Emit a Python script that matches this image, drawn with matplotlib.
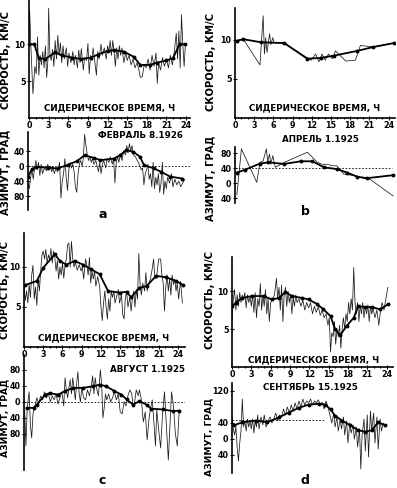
import numpy as np
import matplotlib
matplotlib.use("Agg")
import matplotlib.pyplot as plt

W, H = 397, 488

# ---- panel a : February 8, 1926 ----
a_raw_t = [0.0, 0.1, 0.3, 0.6, 0.9, 1.1, 1.3, 1.5, 1.7, 1.9, 2.1, 2.3, 2.5, 2.7, 2.9, 3.0, 3.2, 3.4, 3.6, 3.8,
           4.0, 4.2, 4.4, 4.6, 4.8, 5.0, 5.2, 5.4, 5.7, 5.9, 6.1, 6.4, 6.7, 6.9, 7.1, 7.4, 7.6, 7.8, 8.0, 8.3,
           8.5, 8.8, 9.0, 9.2, 9.4, 9.6, 9.8, 10.0, 10.3, 10.5, 10.7, 11.0, 11.2, 11.5, 11.8, 12.0, 12.2, 12.4,
           12.6, 12.8, 13.0, 13.2, 13.4, 13.6, 13.8, 14.0, 14.2, 14.5, 14.8, 15.0, 15.3, 15.6, 15.9, 16.2, 16.5,
           16.8, 17.0, 17.3, 17.6, 17.9, 18.2, 18.5, 18.8, 19.1, 19.4, 19.6, 19.8, 20.1, 20.4, 20.7, 21.0, 21.3,
           21.6, 21.9, 22.2, 22.5, 22.7, 22.9, 23.1, 23.3, 23.5, 23.7, 23.9]
a_raw_v = [10.0, 14.6, 9.5, 3.3, 7.0, 6.0, 11.0, 5.8, 8.5, 7.2, 9.0, 6.8, 9.8, 5.5, 8.0, 14.9, 8.5, 7.8, 9.3, 7.0,
           10.5, 8.0, 11.2, 8.5, 10.2, 7.5, 9.8, 8.0, 9.5, 7.0, 8.8, 7.5, 9.0, 7.2, 8.5, 6.8, 9.2, 7.5, 9.4, 6.5,
           8.2, 7.8, 10.1, 6.0, 8.5, 7.8, 9.5, 8.0, 5.8, 9.0, 8.0, 10.0, 8.5, 9.5, 8.0, 9.8, 9.0, 10.5,
           8.5, 10.5, 9.0, 7.0, 9.5, 8.0, 9.8, 8.5, 9.5, 7.5, 9.0, 7.8, 8.5, 7.2, 8.0, 6.8, 7.5,
           6.5, 5.5, 5.6, 7.2, 6.8, 8.0, 6.5, 8.5, 7.0, 8.8, 4.7, 7.5, 6.5, 8.2, 7.0, 8.0, 6.8,
           8.5, 7.2, 9.0, 11.5, 8.0, 11.8, 6.8, 14.0, 10.0, 7.0, 10.0]
a_sm_t = [0.0, 0.8, 1.5, 2.5, 4.0, 5.0, 6.5, 8.0, 9.5, 10.5, 12.0, 13.0, 14.5, 16.0, 17.0, 18.5, 19.5, 21.0, 22.0, 23.0, 23.9]
a_sm_v = [10.0, 10.0, 8.1, 8.0, 8.9, 8.5, 8.2, 8.0, 8.2, 8.6, 9.1, 9.2, 9.0, 8.3, 7.2, 7.2, 7.5, 7.8, 8.1, 10.0, 10.0]

a_az_raw_t = [0.0, 0.2, 0.4, 0.6, 0.8, 1.0, 1.2, 1.4, 1.6, 1.8, 2.0, 2.2, 2.5, 2.8, 3.0, 3.2, 3.4, 3.6, 3.8, 4.0,
              4.2, 4.5, 4.8, 5.0, 5.2, 5.4, 5.6, 5.8, 6.0, 6.2, 6.4, 6.6, 6.8, 7.0, 7.2, 7.4, 7.6, 7.8, 8.0, 8.2,
              8.4, 8.6, 8.8, 9.0, 9.2, 9.4, 9.6, 9.8, 10.0, 10.3, 10.5, 10.7, 10.9, 11.1, 11.3, 11.5, 11.8, 12.0,
              12.3, 12.5, 12.8, 13.0, 13.2, 13.4, 13.6, 13.8, 14.0, 14.3, 14.5, 14.8, 15.0, 15.2, 15.4, 15.6, 15.8,
              16.0, 16.3, 16.6, 16.9, 17.2, 17.4, 17.6, 17.8, 18.0, 18.2, 18.4, 18.6, 18.8, 19.0, 19.2, 19.4, 19.6,
              19.8, 20.0, 20.2, 20.4, 20.6, 20.8, 21.0, 21.2, 21.5, 21.8, 22.0, 22.3, 22.6, 22.9, 23.2, 23.5, 23.8]
a_az_raw_v = [-45, -60, -30, -10, -35, -5, 15, -10, 10, -25, 5, -20, -5, -12, 5, -10, 0, -15, -5, -20,
              -8, -15, 10, -85, -40, -20, 20, -30, -65, -10, 10, -5, 5, -15, -55, -70, -20, 5, 15, 0,
              20, 85, 55, 30, 15, 25, 10, 20, 5, 15, 0, -15, 10, -20, 5, 15, -5, 20,
              10, 25, 5, 20, -45, 10, 25, 10, 30, 15, 40, 30, 55, 35, 60, 40, 55,
              30, 25, 15, 5, -10, -5, -50, -20, -10, 5, -35, -20, -55, 10, -60, -30, -50,
              -20, -70, -45, 10, -75, -40, -60, -30, -45, -20, -55, -35, -50, -40, -55, -45, -35]
a_az_sm_t = [0.0, 0.6, 1.2, 3.0, 4.5, 6.0, 7.5, 8.6, 10.0, 11.0, 13.0, 14.0, 14.9, 16.0, 17.0, 17.6, 19.1, 20.2, 21.6, 23.4]
a_az_sm_v = [-28, -8, -2, -4, -6, 3, 14, 29, 22, 16, 20, 29, 43, 38, 25, 3, -6, -15, -28, -33]

# ---- panel b : April 1, 1925 ----
b_raw_t = [0.3, 1.3, 3.9, 4.4, 4.6, 4.8, 5.0, 5.4, 5.6, 5.9, 6.1, 7.7, 11.1, 11.9, 12.6, 13.1, 13.6, 14.1, 14.6,
           15.2, 15.7, 16.2, 17.3, 18.8, 19.6, 21.6, 24.8]
b_raw_v = [9.9, 10.1, 6.8, 13.1, 8.2, 10.3, 8.4, 10.8, 9.4, 10.3, 9.7, 9.6, 7.8, 7.4, 8.2, 7.2, 8.2, 7.4, 8.2,
           7.6, 8.6, 8.2, 7.3, 7.4, 9.3, 9.1, 9.6]
b_sm_t = [0.3, 1.3, 4.1, 7.7, 11.3, 13.4, 15.5, 19.1, 21.6, 24.8]
b_sm_v = [9.9, 10.1, 9.7, 9.6, 7.6, 7.7, 8.0, 8.6, 9.1, 9.6]

b_az_raw_t = [0.3, 1.0, 3.4, 3.9, 4.4, 4.9, 5.1, 5.4, 5.6, 5.9, 6.3, 7.7, 11.3, 12.9, 13.6, 14.4, 15.2, 15.9,
              17.0, 18.5, 20.1, 21.1, 24.7]
b_az_raw_v = [-31, 91, 2, 55, 59, 91, 59, 77, 50, 73, 42, 55, 82, 55, 50, 50, 46, 46,
              24, 20, 13, 10, -34]
b_az_sm_t = [0.3, 1.5, 3.9, 5.2, 7.7, 10.3, 12.1, 13.9, 16.0, 17.5, 19.1, 20.6, 24.7]
b_az_sm_v = [28, 35, 52, 55, 51, 58, 58, 42, 37, 28, 17, 13, 21]

# ---- panel c : August 1, 1925 ----
c_raw_t = [0.0, 0.2, 0.4, 0.6, 0.8, 1.0, 1.2, 1.4, 1.6, 1.8, 2.0, 2.2, 2.4, 2.6, 2.8, 3.0, 3.2, 3.4, 3.6, 3.8,
           4.0, 4.2, 4.4, 4.6, 4.8, 5.0, 5.2, 5.4, 5.6, 5.8, 6.0, 6.2, 6.4, 6.6, 6.8, 7.0, 7.2, 7.4, 7.6, 7.8,
           8.0, 8.3, 8.6, 8.9, 9.1, 9.3, 9.6, 9.8, 10.0, 10.2, 10.4, 10.6, 10.8, 11.0, 11.2, 11.5, 11.8, 12.0,
           12.2, 12.4, 12.6, 12.8, 13.0, 13.2, 13.4, 13.6, 13.8, 14.0, 14.2, 14.5, 14.7, 14.9, 15.2, 15.4, 15.6,
           15.8, 16.0, 16.2, 16.5, 16.7, 16.9, 17.1, 17.3, 17.5, 17.7, 17.9, 18.1, 18.3, 18.5, 18.8, 19.0, 19.2,
           19.4, 19.7, 20.0, 20.2, 20.4, 20.7, 21.0, 21.3, 21.5, 21.7, 21.9, 22.1, 22.3, 22.5, 22.7, 22.9, 23.1,
           23.3, 23.5, 23.7, 23.9, 24.1, 24.4, 24.7]
c_raw_v = [7.5, 5.8, 7.0, 5.5, 7.8, 6.2, 9.0, 10.2, 6.0, 7.5, 5.2, 8.5, 7.0, 9.5, 11.5, 12.0, 11.0, 12.2, 10.5, 11.5,
           11.0, 12.3, 10.5, 12.0, 11.2, 9.5, 10.8, 8.5, 10.0, 9.0, 10.5, 8.6, 10.2, 11.0, 12.8, 13.0, 10.0, 13.2, 11.0, 10.0,
           10.6, 9.6, 10.3, 9.5, 10.0, 8.5, 11.0, 10.2, 9.0, 11.2, 8.0, 9.5, 8.5, 9.5, 7.6, 8.8, 7.5, 5.0,
           3.3, 5.5, 7.0, 5.0, 3.5, 6.0, 4.5, 7.0, 6.2, 7.0, 5.5, 6.5, 7.2, 5.5, 6.5, 4.0, 3.5,
           6.0, 7.0, 5.0, 6.2, 4.5, 6.0, 7.0, 5.0, 7.2, 6.0, 11.7, 7.8, 6.5, 8.0, 7.0, 9.3, 7.0,
           7.8, 8.5, 9.8, 11.0, 8.5, 9.0, 11.0, 11.0, 9.0, 8.0, 4.5, 7.5, 9.0, 7.0, 8.5, 6.5, 9.0,
           7.8, 8.5, 7.0, 8.0, 6.0, 8.2, 5.5]
c_sm_t = [0.2, 2.0, 3.0, 4.8, 5.6, 6.6, 7.9, 9.2, 10.5, 11.8, 13.1, 14.9, 16.0, 16.7, 18.0, 19.1, 20.6, 22.2, 23.7, 24.8]
c_sm_v = [7.75, 8.25, 9.9, 11.6, 10.75, 10.3, 10.75, 10.3, 9.7, 9.1, 7.0, 6.8, 6.9, 6.2, 7.4, 7.6, 8.9, 8.7, 8.25, 7.75]

c_az_raw_t = [0.1, 0.3, 0.5, 0.8, 1.0, 1.2, 1.4, 1.6, 1.8, 2.0, 2.3, 2.6, 2.9, 3.2, 3.5, 3.8, 4.1, 4.4, 4.7, 5.0,
              5.3, 5.6, 5.9, 6.2, 6.4, 6.6, 6.8, 7.0, 7.2, 7.4, 7.6, 7.8, 8.0, 8.2, 8.4, 8.6, 8.8, 9.0, 9.3, 9.6,
              9.9, 10.2, 10.5, 10.7, 10.9, 11.1, 11.3, 11.6, 11.9, 12.1, 12.3, 12.5, 12.7, 12.9, 13.2, 13.5, 13.8,
              14.1, 14.4, 14.7, 15.0, 15.3, 15.6, 15.9, 16.2, 16.5, 16.8, 17.0, 17.2, 17.5, 17.8, 18.0, 18.3, 18.6,
              18.9, 19.2, 19.5, 19.8, 20.0, 20.2, 20.5, 20.7, 21.0, 21.3, 21.6, 21.9, 22.2, 22.5, 22.8, 23.0, 23.3,
              23.6, 23.9, 24.2]
c_az_raw_v = [-20, -110, -15, 25, -60, -90, -30, -15, -5, 10, -5, 15, 5, 25, 10, 20, 0, 15, 5, 20,
              -5, 10, 25, -10, 60, 30, 10, 35, 55, 20, 60, 35, 5, 45, 75, 20, 0, 35, 10, 5,
              30, 15, 40, 65, 20, 60, 35, 15, 80, 45, -40, -15, 20, 5, 20, 0, 10,
              25, 5, 20, -25, -30, 0, -10, 15, 30, 20, -10, -5, 30, 15, 30, 5, -50,
              -25, -95, -40, -10, 5, -40, -110, -20, -70, -115, -30, 25, -60, -145, -45, 25, -10,
              -80, -110, -20]
c_az_sm_t = [0.4, 1.5, 2.0, 3.3, 4.0, 5.3, 6.4, 7.7, 9.2, 10.8, 11.8, 12.8, 14.1, 15.2, 16.0, 17.0, 18.0, 19.1,
             19.8, 21.7, 23.2, 24.2]
c_az_sm_v = [-15, -15, -7, 18, 22, 18, 27, 35, 35, 39, 43, 39, 27, 18, 6, -7, 2, -7, -17, -19, -23, -22]

# ---- panel d : September 15, 1925 ----
d_raw_t = [0.0, 0.2, 0.4, 0.6, 0.8, 1.0, 1.2, 1.4, 1.6, 1.8, 2.0, 2.2, 2.4, 2.6, 2.8, 3.0, 3.2, 3.4, 3.6, 3.8,
           4.0, 4.2, 4.4, 4.6, 4.8, 5.0, 5.2, 5.4, 5.6, 5.8, 6.0, 6.3, 6.6, 6.9, 7.1, 7.3, 7.5, 7.7, 7.9, 8.1,
           8.3, 8.5, 8.7, 8.9, 9.1, 9.3, 9.5, 9.7, 9.9, 10.1, 10.4, 10.7, 11.0, 11.3, 11.6, 11.9, 12.2, 12.5,
           12.8, 13.1, 13.4, 13.7, 14.0, 14.3, 14.6, 14.9, 15.1, 15.3, 15.5, 15.7, 15.9, 16.1, 16.3, 16.5, 16.7,
           16.9, 17.1, 17.3, 17.5, 17.7, 17.9, 18.1, 18.3, 18.5, 18.7, 18.9, 19.1, 19.3, 19.5, 19.7, 19.9, 20.1,
           20.3, 20.5, 20.7, 20.9, 21.1, 21.3, 21.5, 21.7, 21.9, 22.2, 22.5, 22.8, 23.0, 23.3, 23.6, 23.9, 24.2]
d_raw_v = [6.0, 9.0, 10.2, 7.5, 9.5, 8.0, 9.8, 8.5, 9.5, 9.0, 9.8, 7.8, 9.5, 8.5, 9.3, 8.0, 9.5, 7.2, 9.8, 6.5,
           9.0, 8.0, 11.0, 7.5, 9.5, 8.0, 10.2, 7.0, 9.0, 6.0, 8.5, 8.8, 9.5, 11.7, 9.0, 10.5, 7.5, 10.8, 6.0, 9.5,
           10.5, 8.0, 10.0, 8.5, 9.5, 7.0, 9.2, 8.0, 9.5, 8.5, 9.0, 8.0, 8.8, 7.5, 8.5, 7.8, 8.5, 7.0,
           8.0, 7.2, 8.0, 6.8, 7.5, 6.5, 7.0, 5.5, 6.5, 2.0, 4.5, 4.0, 6.0, 3.0, 5.0, 4.0, 5.5,
           2.5, 5.0, 6.5, 5.0, 7.0, 6.0, 8.5, 7.0, 9.0, 7.5, 13.1, 8.5, 7.0, 8.5, 6.0, 8.2, 7.0,
           8.5, 6.5, 8.0, 7.0, 8.2, 6.0, 8.0, 7.0, 7.8, 6.5, 7.5, 5.5, 7.0, 8.5, 7.5, 9.0, 10.5]
d_sm_t = [0.05, 0.6, 1.6, 3.1, 4.9, 6.2, 7.3, 8.3, 9.3, 10.9, 11.9, 13.2, 14.2, 15.3, 16.0, 16.8, 17.8, 18.9,
          19.6, 20.7, 21.7, 23.0, 24.3]
d_sm_v = [8.0, 8.5, 9.1, 9.35, 9.35, 8.9, 9.1, 9.9, 9.35, 9.1, 8.9, 8.3, 7.6, 6.7, 5.0, 4.2, 5.4, 6.5,
          8.0, 7.9, 7.9, 7.6, 8.3]

d_az_raw_t = [0.0, 0.2, 0.4, 0.6, 0.8, 1.0, 1.2, 1.4, 1.6, 1.8, 2.0, 2.2, 2.4, 2.6, 2.8, 3.0, 3.2, 3.4, 3.6, 3.8,
              4.0, 4.2, 4.5, 4.8, 5.0, 5.3, 5.6, 5.9, 6.2, 6.5, 6.8, 7.1, 7.4, 7.7, 8.0, 8.3, 8.6, 8.9, 9.2, 9.5,
              9.8, 10.1, 10.4, 10.7, 11.0, 11.3, 11.6, 11.9, 12.2, 12.5, 12.8, 13.1, 13.4, 13.7, 14.0, 14.3, 14.6,
              14.9, 15.2, 15.5, 15.8, 16.0, 16.3, 16.5, 16.8, 17.0, 17.3, 17.5, 17.8, 18.0, 18.3, 18.5, 18.8, 19.0,
              19.3, 19.5, 19.8, 20.0, 20.2, 20.5, 20.7, 21.0, 21.2, 21.5, 21.7, 22.0, 22.2, 22.5, 22.7, 23.0, 23.2,
              23.5, 23.8]
d_az_raw_v = [60, 25, 10, 30, -20, -55, -10, 20, 100, 30, 45, 20, 50, 30, 45, 25, 50, 15, 45, 30,
              60, 25, 55, 35, 60, 30, 45, 55, 40, 50, 65, 45, 60, 55, 75, 60, 80, 65, 85, 70,
              90, 75, 95, 80, 100, 85, 95, 90, 100, 85, 95, 90, 98, 85, 92, 75, 95,
              80, 60, 40, 65, 30, 55, 20, 50, 25, 55, 10, 45, -10, 40, 15, 35, 0,
              30, -20, 25, -75, 10, 50, -30, 60, -45, 70, 20, 65, -10, 55, -25, 50, 20,
              40, 30]
d_az_sm_t = [0.3, 1.6, 3.7, 5.5, 7.3, 8.8, 10.4, 11.9, 13.5, 14.5, 15.3, 16.0, 17.1, 18.4, 19.6, 20.7, 21.7, 22.7, 23.8]
d_az_sm_v = [34, 42, 46, 42, 54, 66, 78, 86, 88, 86, 74, 58, 46, 34, 22, 18, 22, 42, 34]

hour_ticks = [0, 3, 6, 9, 12, 15, 18, 21, 24]
time_label = "СИДЕРИЧЕСКОЕ ВРЕМЯ, Ч"
speed_label = "СКОРОСТЬ, КМ/С"
az_label = "АЗИМУТ, ГРАД"

plt.rcParams['font.family'] = ['DejaVu Sans']
plt.rcParams['font.weight'] = 'bold'
narrow = ['Liberation Sans Narrow', 'DejaVu Sans']

fig = plt.figure(figsize=(W / 100, H / 100), dpi=100)


def box(x0, y0, x1, y1):
    return fig.add_axes([x0 / W, 1 - y1 / H, (x1 - x0) / W, (y1 - y0) / H])


def ftext(x, y, s, **kw):
    fig.text(x / W, 1 - y / H, s, **kw)


def speed_panel(rect, xmax, ymax, raw_t, raw_v, sm_t, sm_v):
    ax = box(*rect)
    ax.plot(raw_t, raw_v, color='#1a1a1a', lw=0.55)
    ax.plot(sm_t, sm_v, color='black', lw=1.3, marker='o', ms=1.8)
    ax.set_xlim(0, xmax)
    ax.set_ylim(0, ymax)
    for s in ['top', 'right']:
        ax.spines[s].set_visible(False)
    ax.spines['left'].set_linewidth(1.2)
    ax.spines['bottom'].set_linewidth(1.2)
    ax.set_xticks(hour_ticks)
    ax.set_xticks(range(0, 25), minor=True)
    ax.set_yticks([5, 10])
    ax.set_yticklabels(['5', '10'])
    ax.tick_params(axis='both', which='both', direction='inout', length=3, width=0.8,
                   labelsize=5.8, pad=1)
    ax.tick_params(axis='both', which='minor', length=2)
    ax.patch.set_visible(False)
    return ax


def az_panel(rect, xmax, ylim, ticks, labels, ref, raw_t, raw_v, sm_t, sm_v):
    ax = box(*rect)
    ax.plot([0, ref[1]], [ref[0], ref[0]], color='black', lw=0.6, ls=(0, (2, 2)))
    ax.plot(raw_t, raw_v, color='#1a1a1a', lw=0.55)
    ax.plot(sm_t, sm_v, color='black', lw=1.3, marker='o', ms=1.8)
    ax.set_xlim(0, xmax)
    ax.set_ylim(*ylim)
    for s in ['top', 'right', 'bottom']:
        ax.spines[s].set_visible(False)
    ax.spines['left'].set_linewidth(1.2)
    ax.set_xticks([])
    ax.set_yticks(ticks)
    ax.set_yticklabels(labels)
    ax.tick_params(axis='y', direction='inout', length=3, width=0.8, labelsize=5.8, pad=1)
    ax.patch.set_visible(False)
    return ax


# a
speed_panel((29, 0, 190, 118), 24.6, 16, a_raw_t, a_raw_v, a_sm_t, a_sm_v)
az_panel((28, 132, 190, 210), 24.6, (-117, 91), [40, 0, -40, -80], ['40', '0', '40', '80'],
         (0, 24.6), a_az_raw_t, a_az_raw_v, a_az_sm_t, a_az_sm_v)
# b
speed_panel((235, 8, 395, 118), 25.0, 14.1, b_raw_t, b_raw_v, b_sm_t, b_sm_v)
az_panel((235, 147, 395, 203), 25.0, (-53, 96), [80, 40, 0, -40], ['80', '40', '0', '40'],
         (40, 24.5), b_az_raw_t, b_az_raw_v, b_az_sm_t, b_az_sm_v)
# c
speed_panel((24, 233, 185, 347), 25.1, 14.25, c_raw_t, c_raw_v, c_sm_t, c_sm_v)
az_panel((24, 355, 185, 470), 25.1, (-170, 117), [80, 40, 0, -40, -80], ['80', '40', '0', '40', '80'],
         (0, 25.1), c_az_raw_t, c_az_raw_v, c_az_sm_t, c_az_sm_v)
# d
speed_panel((232, 257, 393, 367), 25.0, 14.5, d_raw_t, d_raw_v, d_sm_t, d_sm_v)
az_panel((232, 383, 393, 473), 25.0, (-85, 140), [120, 40, 0, -40], ['120', '40', '0', '40'],
         (48, 14.5), d_az_raw_t, d_az_raw_v, d_az_sm_t, d_az_sm_v)

# axis titles
for x, y in [(110, 108), (315, 108), (104, 338), (314, 360)]:
    ftext(x, y, time_label, ha='center', va='center', fontsize=6.3, fontweight='bold')
for x, y in [(6, 60), (211, 62), (5, 290), (210, 300)]:
    ftext(x, y, speed_label, ha='center', va='center', rotation=90, fontsize=7.2,
          fontweight='bold', family=narrow)
for x, y, fs in [(6, 172, 7.2), (211, 178, 7.2), (5, 418, 6.6), (209, 437, 6.6)]:
    ftext(x, y, az_label, ha='center', va='center', rotation=90, fontsize=fs,
          fontweight='bold', family=narrow)

ftext(140, 135, "ФЕВРАЛЬ 8.1926", ha='center', va='center', fontsize=6.3, fontweight='bold')
ftext(320, 139, "АПРЕЛЬ 1.1925", ha='center', va='center', fontsize=6.3, fontweight='bold')
ftext(148, 370, "АВГУСТ 1.1925", ha='center', va='center', fontsize=6.3, fontweight='bold')
ftext(310, 388, "СЕНТЯБРЬ 15.1925", ha='center', va='center', fontsize=6.3, fontweight='bold')

for x, y, s in [(103, 214, 'a'), (305, 212, 'b'), (102, 481, 'c'), (305, 481, 'd')]:
    ftext(x, y, s, ha='center', va='center', fontsize=9, fontweight='bold')

fig.savefig("out.png", dpi=100)
